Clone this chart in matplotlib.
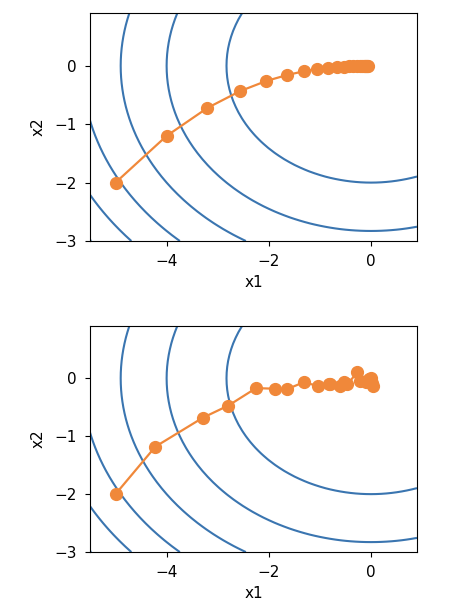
import numpy as np
import matplotlib.pyplot as plt

# trajectory of gradient descent
gd_x1 = [-5.0, -4.0, -3.2, -2.56, -2.048, -1.638, -1.311, -1.049, -0.839, -0.671,
         -0.537, -0.429, -0.344, -0.275, -0.220, -0.176, -0.141, -0.113, -0.090, -0.072, -0.058]
gd_x2 = [-2.0, -1.2, -0.72, -0.432, -0.259, -0.156, -0.093, -0.056, -0.034, -0.020,
         -0.012, -0.007, -0.004, -0.003, -0.002, -0.001, -0.001, 0.0, 0.0, 0.0, 0.0]

# trajectory of stochastic gradient descent
sgd_x1 = [-5.0, -4.22, -3.29, -2.79, -2.25, -1.87, -1.65, -1.32, -1.04, -0.83, -0.80,
          -0.60, -0.52, -0.46, -0.27, -0.22, -0.10, -0.03, 0.0, 0.02, 0.03]
sgd_x2 = [-2.0, -1.18, -0.68, -0.47, -0.17, -0.18, -0.19, -0.07, -0.13, -0.09, -0.09,
          -0.14, -0.06, -0.10, 0.10, -0.04, -0.06, -0.02, 0.0, -0.08, -0.13]

# objective surface f(x1, x2) = x1^2 + 2 x2^2
x1, x2 = np.meshgrid(np.arange(-5.5, 1.0, 0.1), np.arange(-3.0, 1.0, 0.1))
f = x1 ** 2 + 2 * x2 ** 2

fig = plt.figure(figsize=(4.49, 6.04), dpi=100)
ax1 = fig.add_axes([0.2004, 0.601, 0.7283, 0.377])
ax2 = fig.add_axes([0.2004, 0.086, 0.7283, 0.374])

for ax, xs, ys in [(ax1, gd_x1, gd_x2), (ax2, sgd_x1, sgd_x2)]:
    ax.contour(x1, x2, f, colors='#3a75b0', linewidths=1.5)
    ax.plot(xs, ys, '-o', color='#f0883a', markersize=8.5, linewidth=1.6)
    ax.set_xlabel('x1', fontsize=11, labelpad=4)
    ax.set_ylabel('x2', fontsize=11, labelpad=6)
    ax.set_xticks([-4, -2, 0])
    ax.set_yticks([-3, -2, -1, 0])
    ax.tick_params(labelsize=11, pad=6)

fig.savefig('out.png', dpi=100)
